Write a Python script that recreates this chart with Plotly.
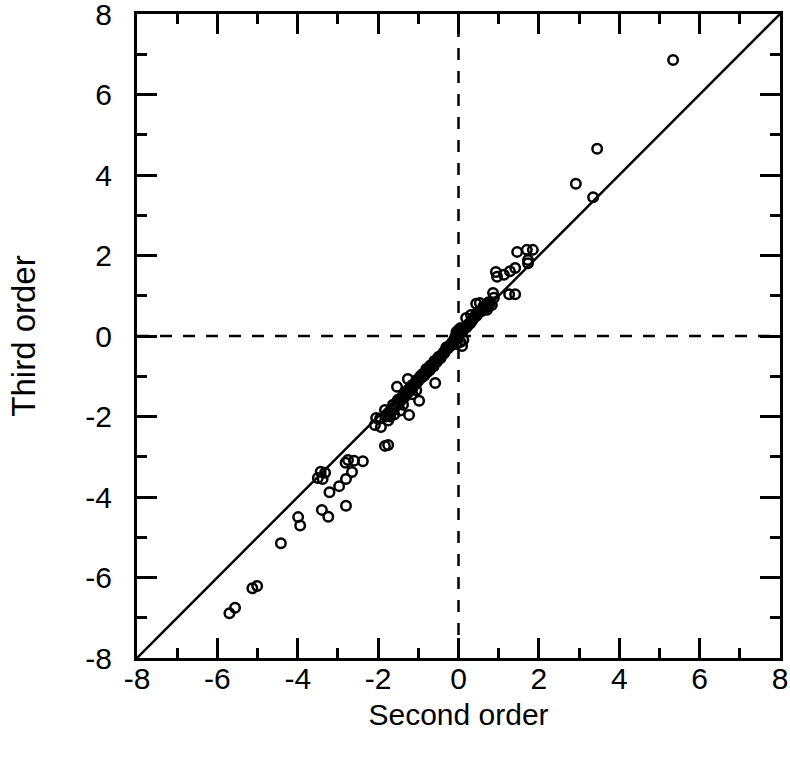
import plotly.graph_objects as go

# Data (second order vs third order)
second_order = [
    5.34, 3.45, 2.92, 3.35,
    1.46, 1.70, 1.85, 1.73, 1.73,
    0.93, 0.96, 1.13, 1.28, 1.41, 1.26, 1.41, 0.86, 0.88,
    0.19, 0.31, 0.44, 0.53, 0.62, 0.71, 0.83, 0.78, 0.68, 0.58, 0.50, 0.45,
    0.40, 0.35, 0.30, 0.25, 0.20, 0.15, 0.10, 0.05, 0.00, -0.05, 0.02, -0.02,
    -0.08, -0.10, 0.09, 0.12, 0.05, -0.05, -0.15, -0.20, -0.25, -0.30, -0.35,
    -0.40, -0.45, -0.50, -0.55, -0.60, -0.62, -0.68, -0.72, -0.78, -0.80,
    -0.85, -0.90, -0.95, -1.00, -1.05, -1.10, -1.15, -1.20, -1.25, -1.30,
    -1.35, -1.40, -1.45, -1.50, -1.55, -1.60, -1.65, -1.70, -1.75, -1.80,
    -1.45, -1.35, -1.25, -1.15, -1.05, -0.95, -0.85, -0.75, -0.65, -0.55,
    -0.45, -0.35, -0.25, -0.15, -0.05, 0.05, 0.15, 0.25, 0.35, 0.45, 0.55,
    0.65, 0.75, -1.00, -0.90, -0.80, -0.70, -0.60, -0.50, -0.40, -0.30,
    -0.20, -0.10, 0.10, 0.30, 0.50, 0.70,
    -1.53, -1.26, -0.58, -0.98, -1.23, -2.05, -1.93, -2.08, -1.83, -1.63,
    -1.51, -1.38, -1.70, -1.60, -1.45, -1.15, -1.05, -1.75, -1.95,
    -3.43, -3.32, -3.50, -3.38, -2.81, -2.75, -3.21, -2.97, -2.80, -2.80,
    -3.40, -3.24, -3.99, -3.94, -4.42, -5.13, -5.01, -5.70, -5.56,
    -2.38, -2.60, -2.65, -1.83, -1.75,
]
third_order = [
    6.86, 4.65, 3.78, 3.45,
    2.09, 2.14, 2.14, 1.89, 1.81,
    1.59, 1.47, 1.52, 1.61, 1.69, 1.04, 1.04, 1.07, 0.95,
    0.45, 0.52, 0.80, 0.82, 0.74, 0.65, 0.77, 0.80, 0.70, 0.62, 0.58, 0.55,
    0.48, 0.40, 0.35, 0.30, 0.22, 0.18, 0.12, 0.20, 0.15, 0.10, 0.05, -0.05,
    -0.02, -0.12, -0.25, -0.10, -0.15, -0.20, -0.18, -0.22, -0.30, -0.28, -0.42,
    -0.45, -0.55, -0.58, -0.65, -0.62, -0.75, -0.78, -0.85, -0.90, -0.82,
    -0.98, -1.02, -1.05, -1.12, -1.18, -1.22, -1.30, -1.35, -1.40, -1.45,
    -1.52, -1.55, -1.62, -1.68, -1.72, -1.80, -1.85, -1.90, -1.95, -2.00,
    -1.55, -1.42, -1.33, -1.22, -1.10, -1.00, -0.93, -0.80, -0.72, -0.60,
    -0.50, -0.38, -0.27, -0.15, -0.02, 0.08, 0.20, 0.28, 0.42, 0.50, 0.62,
    0.70, 0.84, -1.08, -0.95, -0.88, -0.73, -0.68, -0.52, -0.47, -0.33,
    -0.24, -0.08, 0.15, 0.32, 0.60, 0.76,
    -1.26, -1.07, -1.17, -1.61, -1.96, -2.04, -2.26, -2.21, -1.84, -1.71,
    -1.59, -1.71, -2.00, -1.95, -1.85, -1.45, -1.35, -2.10, -2.05,
    -3.37, -3.40, -3.53, -3.55, -3.15, -3.08, -3.88, -3.73, -3.55, -4.22,
    -4.32, -4.49, -4.50, -4.71, -5.15, -6.27, -6.21, -6.89, -6.75,
    -3.11, -3.10, -3.38, -2.73, -2.71,
]

axis_range = [-8, 8]
tick_vals = [-8, -6, -4, -2, 0, 2, 4, 6, 8]
tick_text = ["-8", "-6", "-4", "-2", "0", "2", "4", "6", "8"]
x_title = "Second order"
y_title = "Third order"

FONT = "Liberation Sans, Arial, Helvetica, sans-serif"

fig = go.Figure()

# identity line
fig.add_trace(go.Scatter(
    x=axis_range, y=axis_range, mode="lines",
    line=dict(color="black", width=2.5), hoverinfo="skip", showlegend=False,
))
# dashed zero lines
fig.add_trace(go.Scatter(
    x=[0, 0], y=axis_range, mode="lines",
    line=dict(color="black", width=2.5, dash="12px,11px"), hoverinfo="skip", showlegend=False,
))
fig.add_trace(go.Scatter(
    x=axis_range, y=[0, 0], mode="lines",
    line=dict(color="black", width=2.5, dash="12px,11px"), hoverinfo="skip", showlegend=False,
))
# data points
fig.add_trace(go.Scatter(
    x=second_order, y=third_order, mode="markers",
    marker=dict(symbol="circle-open", size=9.5, color="black", line=dict(width=2.5, color="black")),
    showlegend=False,
))

axis_common = dict(
    tickvals=tick_vals,
    ticktext=tick_text,
    ticks="inside",
    ticklen=20,
    tickwidth=2.5,
    tickcolor="black",
    showline=True,
    linewidth=3,
    linecolor="black",
    mirror="ticks",
    showgrid=False,
    zeroline=False,
    ticklabeloverflow="allow",
    tickfont=dict(family=FONT, size=30, color="black"),
    minor=dict(dtick=1, ticks="inside", ticklen=10, tickwidth=2.5, tickcolor="black", showgrid=False),
)

fig.update_xaxes(**axis_common, range=[-8.0001, 8.0001],
                 title=dict(text=x_title, standoff=10,
                            font=dict(family=FONT, size=30, color="black")),
                 ticklabelstandoff=-8)
fig.update_yaxes(**axis_common, range=[-8.0001, 8.0001],
                 title=dict(text=y_title, standoff=40,
                            font=dict(family=FONT, size=33, color="black")),
                 ticklabelstandoff=16)

fig.update_layout(
    width=790, height=768,
    margin=dict(l=137, r=10, t=14, b=110, autoexpand=False),
    plot_bgcolor="white",
    paper_bgcolor="white",
    showlegend=False,
)

fig.write_html("out.html")
